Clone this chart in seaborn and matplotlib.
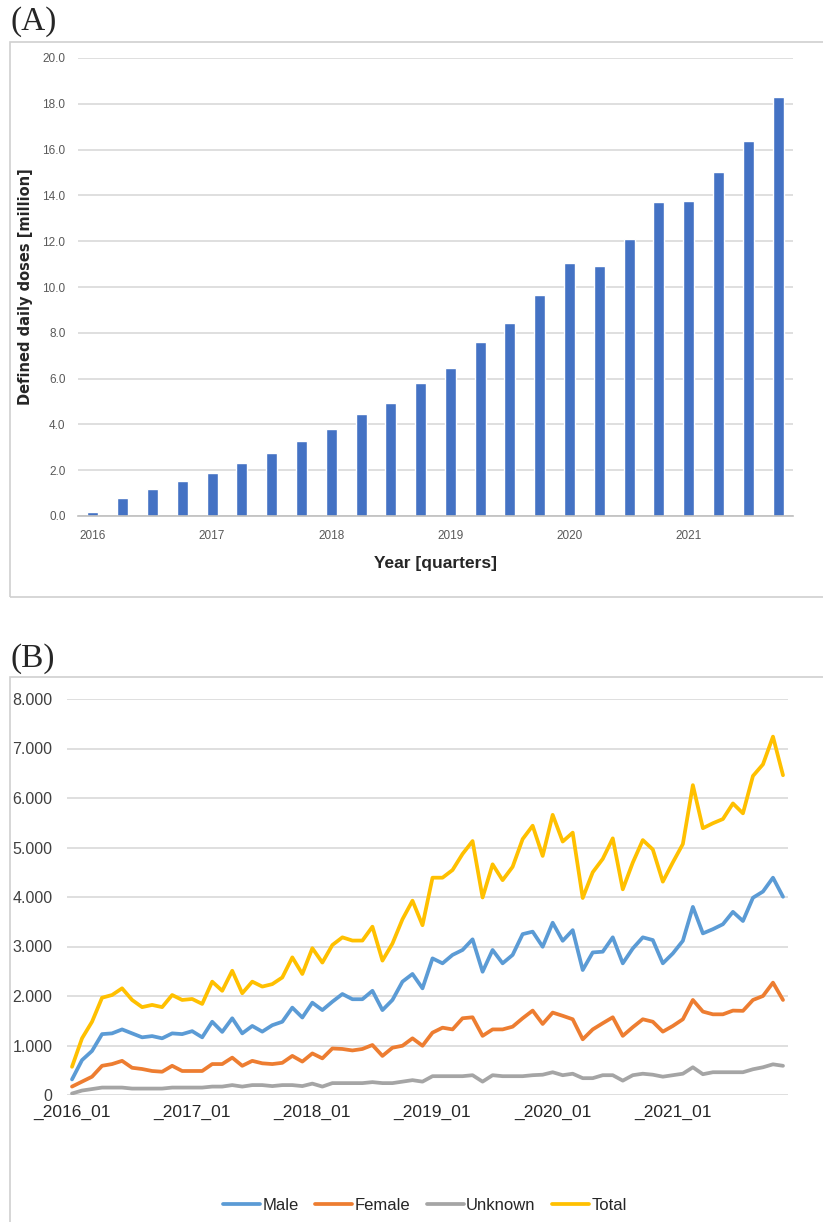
import pandas as pd
import matplotlib
matplotlib.use('Agg')
import matplotlib.pyplot as plt
import seaborn as sns
from matplotlib.patches import Rectangle
from matplotlib.ticker import FuncFormatter

# ---- panel A: quarterly defined daily doses (million) ----
quarters = ['2016Q1', '2016Q2', '2016Q3', '2016Q4', '2017Q1', '2017Q2', '2017Q3', '2017Q4',
            '2018Q1', '2018Q2', '2018Q3', '2018Q4', '2019Q1', '2019Q2', '2019Q3', '2019Q4',
            '2020Q1', '2020Q2', '2020Q3', '2020Q4', '2021Q1', '2021Q2', '2021Q3', '2021Q4']
ddd_million = [0.19, 0.77, 1.17, 1.52, 1.87, 2.33, 2.75, 3.26,
               3.81, 4.45, 4.94, 5.80, 6.46, 7.62, 8.41, 9.66,
               11.03, 10.93, 12.10, 13.72, 13.77, 15.00, 16.39, 18.30]
year_labels = ['2016', '2017', '2018', '2019', '2020', '2021']

# ---- panel B: monthly values by sex ----
months = ['_%d_%02d' % (y, m) for y in range(2016, 2022) for m in range(1, 13)]
male = [315, 705, 890, 1230, 1245, 1325, 1245, 1165, 1190, 1145, 1245, 1230,
        1290, 1165, 1480, 1275, 1550, 1245, 1395, 1280, 1410, 1480, 1765, 1565,
        1865, 1715, 1885, 2040, 1935, 1935, 2105, 1715, 1920, 2290, 2445, 2155,
        2760, 2660, 2830, 2930, 3145, 2490, 2930, 2660, 2830, 3250, 3300, 2995,
        3480, 3115, 3330, 2525, 2880, 2895, 3185, 2660, 2960, 3185, 3130, 2660,
        2860, 3115, 3800, 3265, 3350, 3450, 3700, 3515, 3985, 4110, 4390, 4005]
female = [170, 270, 370, 590, 625, 690, 550, 525, 485, 470, 590, 485,
          485, 485, 625, 625, 755, 590, 690, 640, 625, 650, 790, 675,
          840, 740, 940, 930, 900, 930, 1010, 790, 955, 995, 1145, 995,
          1260, 1360, 1325, 1550, 1570, 1195, 1325, 1325, 1380, 1550, 1705, 1435,
          1665, 1600, 1530, 1125, 1325, 1450, 1570, 1195, 1370, 1530, 1480, 1280,
          1395, 1530, 1920, 1685, 1630, 1630, 1705, 1700, 1920, 2000, 2270, 1920]
unknown = [30, 90, 120, 150, 150, 150, 130, 130, 130, 130, 150, 150,
           150, 150, 170, 170, 200, 170, 200, 200, 180, 200, 200, 180,
           230, 170, 240, 240, 240, 240, 260, 240, 240, 270, 300, 270,
           380, 380, 380, 380, 400, 270, 400, 380, 380, 380, 400, 410,
           460, 400, 430, 340, 340, 400, 400, 290, 400, 430, 410, 370,
           400, 430, 560, 420, 460, 460, 460, 460, 520, 560, 620, 590]
total = [570, 1145, 1480, 1965, 2020, 2155, 1920, 1775, 1820, 1775, 2020, 1920,
         1940, 1840, 2290, 2105, 2510, 2055, 2290, 2190, 2240, 2375, 2780, 2445,
         2965, 2675, 3030, 3185, 3120, 3120, 3400, 2715, 3060, 3550, 3925, 3430,
         4390, 4390, 4545, 4870, 5130, 3990, 4660, 4340, 4610, 5170, 5440, 4830,
         5660, 5120, 5300, 3980, 4500, 4770, 5185, 4155, 4695, 5150, 4960, 4310,
         4700, 5070, 6260, 5390, 5490, 5575, 5890, 5690, 6445, 6680, 7240, 6460]
series_names = ['Male', 'Female', 'Unknown', 'Total']
series_colors = ['#5B9BD5', '#ED7D31', '#A5A5A5', '#FFC000']

sns.set_style('white')
plt.rcParams['font.family'] = ['Liberation Sans', 'DejaVu Sans']

fig = plt.figure(figsize=(8.23, 12.22), dpi=100)
W, H = 823, 1222


def fig_axes(left, top, right, bottom):
    # pixel box -> figure fraction
    return fig.add_axes([left / W, 1 - bottom / H, (right - left) / W, (bottom - top) / H])


# outer frames + panel letters
fig.patches.append(Rectangle((10 / W, 1 - 597 / H), 1.0, (597 - 42) / H, transform=fig.transFigure,
                             fill=False, edgecolor='#d0d0d0', linewidth=1.2))
fig.patches.append(Rectangle((10 / W, -0.05), 1.0, 0.05 + (1222 - 677) / H, transform=fig.transFigure,
                             fill=False, edgecolor='#d0d0d0', linewidth=1.2))
fig.text(11 / W, 1 - 22 / H, '(A)', family='Liberation Serif', fontsize=24, va='center', ha='left')
fig.text(11 / W, 1 - 659 / H, '(B)', family='Liberation Serif', fontsize=24, va='center', ha='left')

# ---- panel A ----
ax_a = fig_axes(78, 58, 793, 516)
df_a = pd.DataFrame({'quarter': quarters, 'ddd': ddd_million})
sns.barplot(data=df_a, x='quarter', y='ddd', color='#4472C4', saturation=1, width=0.37, ax=ax_a)
ax_a.set_ylim(0, 20)
ax_a.set_xlim(-0.5, len(quarters) - 0.5)
ax_a.set_yticks(range(0, 21, 2))
ax_a.yaxis.set_major_formatter(FuncFormatter(lambda v, p: '%.1f' % v))
ax_a.grid(axis='y', color='#d9d9d9', linewidth=1.2)
ax_a.set_axisbelow(True)
ax_a.set_xticks(range(0, len(quarters), 4))
ax_a.set_xticklabels(year_labels)
ax_a.set_xticks([i - 0.5 for i in range(len(quarters) + 1)], minor=True)
ax_a.tick_params(axis='x', which='minor', length=5, color='#bfbfbf', width=1, direction='out')
ax_a.tick_params(axis='x', which='major', length=0, pad=10, labelsize=8.5, labelcolor='#595959')
ax_a.tick_params(axis='y', length=0, pad=9, labelsize=8.5, labelcolor='#595959')
for side in ['top', 'right', 'left']:
    ax_a.spines[side].set_visible(False)
ax_a.spines['bottom'].set_color('#bfbfbf')
ax_a.spines['bottom'].set_linewidth(1.2)
ax_a.set_ylabel('Defined daily doses [million]', fontsize=10.5, fontweight='bold',
                family='DejaVu Sans', labelpad=7)
ax_a.set_xlabel('Year [quarters]', fontsize=12.5, fontweight='bold', labelpad=10)

# ---- panel B ----
ax_b = fig_axes(67, 699, 788, 1095)
df_b = pd.DataFrame({
    'month': list(range(len(months))) * 4,
    'value': male + female + unknown + total,
    'series': [s for s in series_names for _ in months],
})
sns.lineplot(data=df_b, x='month', y='value', hue='series', hue_order=series_names,
             palette=series_colors, linewidth=2.7, ax=ax_b)
ax_b.set_ylim(0, 8000)
ax_b.set_xlim(-0.5, len(months) - 0.5)
ax_b.set_yticks(range(0, 8001, 1000))
ax_b.yaxis.set_major_formatter(FuncFormatter(lambda v, p: '{:,}'.format(int(v)).replace(',', '.')))
ax_b.set_xticks(range(0, len(months), 12))
ax_b.set_xticklabels(months[::12])
ax_b.grid(axis='y', color='#d9d9d9', linewidth=1.2)
ax_b.set_axisbelow(True)
ax_b.tick_params(axis='x', length=0, pad=7, labelsize=12.5, labelcolor='#262626')
ax_b.tick_params(axis='y', length=0, pad=10.5, labelsize=11.5, labelcolor='#404040')
for side in ['top', 'right', 'left', 'bottom']:
    ax_b.spines[side].set_visible(False)
ax_b.set_xlabel('')
ax_b.set_ylabel('')

handles, labels = ax_b.get_legend_handles_labels()
ax_b.get_legend().remove()
fig.legend(handles, labels, loc='center', bbox_to_anchor=(425 / W, 1 - 1205 / H), ncol=4,
           frameon=False, fontsize=12, handlelength=2.2, handletextpad=0.15, columnspacing=1.0)

fig.savefig('out.png', dpi=100)
